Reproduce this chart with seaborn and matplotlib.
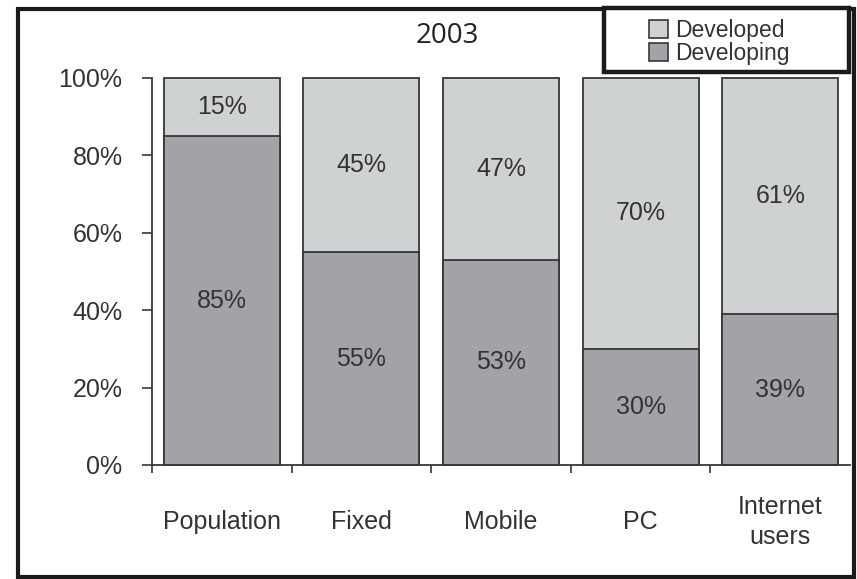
import numpy as np
import pandas as pd
import seaborn as sns
import matplotlib.pyplot as plt
from matplotlib.patches import Rectangle, Patch

# data (2003 shares, %)
categories = ["Population", "Fixed", "Mobile", "PC", "Internet\nusers"]
developing = [85, 55, 53, 30, 39]
developed = [15, 45, 47, 70, 61]
y_ticks = [0, 20, 40, 60, 80, 100]

light = "#cfd2d2"
dark = "#a3a2a6"
edge = "#3a3637"
txt = "#333333"

df = pd.DataFrame({"category": categories,
                   "developing": developing,
                   "developed": developed})
df["total"] = df["developing"] + df["developed"]

sns.set_style("white")
plt.rcParams["font.family"] = ["Liberation Sans", "DejaVu Sans"]

fig = plt.figure(figsize=(8.57, 5.79), dpi=100)
ax = fig.add_axes([152 / 857, 1 - 465 / 579, (850 - 152) / 857, (465 - 78) / 579])

# full bar = developed share on top, developing drawn over it
sns.barplot(data=df, x="category", y="total", color=light, saturation=1,
            edgecolor=edge, linewidth=1.3, width=0.83, ax=ax)
sns.barplot(data=df, x="category", y="developing", color=dark, saturation=1,
            edgecolor=edge, linewidth=1.3, width=0.83, ax=ax)
for p in ax.patches:
    p.set_clip_on(False)

for i in range(len(categories)):
    ax.text(i, developing[i] / 2, f"{developing[i]}%", ha="center", va="center",
            fontsize=18, color=txt)
    ax.text(i, developing[i] + developed[i] / 2, f"{developed[i]}%", ha="center",
            va="center", fontsize=18, color=txt)

ax.set_xlim(-0.5, 4.5)
ax.set_ylim(0, 100)
ax.set_yticks(y_ticks)
ax.set_yticklabels([f"{v}%" for v in y_ticks])
ax.set_xticks(range(len(categories)))
ax.set_xticklabels(categories)
ax.set_xticks(np.arange(-0.5, 4.0, 1.0), minor=True)
ax.set_xlabel("")
ax.set_ylabel("")

ax.tick_params(axis="y", direction="out", length=7.2, width=1.2, color=edge,
               pad=14, labelsize=18, labelcolor=txt, left=True)
ax.tick_params(axis="x", which="major", length=0, pad=41, labelsize=18,
               labelcolor=txt)
ax.tick_params(axis="x", which="minor", direction="out", length=6, width=1.2,
               color=edge, bottom=True)
for lab in ax.get_xticklabels():
    lab.set_va("center")
    lab.set_linespacing(1.3)

sns.despine(ax=ax)
for s in ["left", "bottom"]:
    ax.spines[s].set_color(edge)
    ax.spines[s].set_linewidth(1.3)

fig.text(447 / 857, 1 - 36 / 579, "2003", ha="center", va="center",
         fontsize=20, family=["Open Sans", "DejaVu Sans"], color="#222222")

# legend box drawn separately, legend itself without frame
fig.patches.append(Rectangle((604 / 857, 1 - 72 / 579), 245 / 857, 64 / 579,
                             transform=fig.transFigure, fill=True,
                             facecolor="white", edgecolor="#1a1a1a",
                             linewidth=3.2, zorder=5))
handles = [Patch(facecolor=light, edgecolor=edge, linewidth=1.2, label="Developed"),
           Patch(facecolor=dark, edgecolor=edge, linewidth=1.2, label="Developing")]
leg = fig.legend(handles=handles, loc="upper left",
                 bbox_to_anchor=(649 / 857, 1 - 19 / 579), fontsize=16.5,
                 frameon=False, handlelength=0.85, handleheight=0.8,
                 handletextpad=0.3, labelspacing=0.0, borderpad=0,
                 borderaxespad=0)
leg.set_zorder(6)
for t in leg.get_texts():
    t.set_color(txt)

# outer frame of the picture
fig.patches.append(Rectangle((18 / 857, 2 / 579), 836 / 857, 568 / 579,
                             transform=fig.transFigure, fill=False,
                             edgecolor="#1a1a1a", linewidth=3))

fig.savefig("out.png", dpi=100)
